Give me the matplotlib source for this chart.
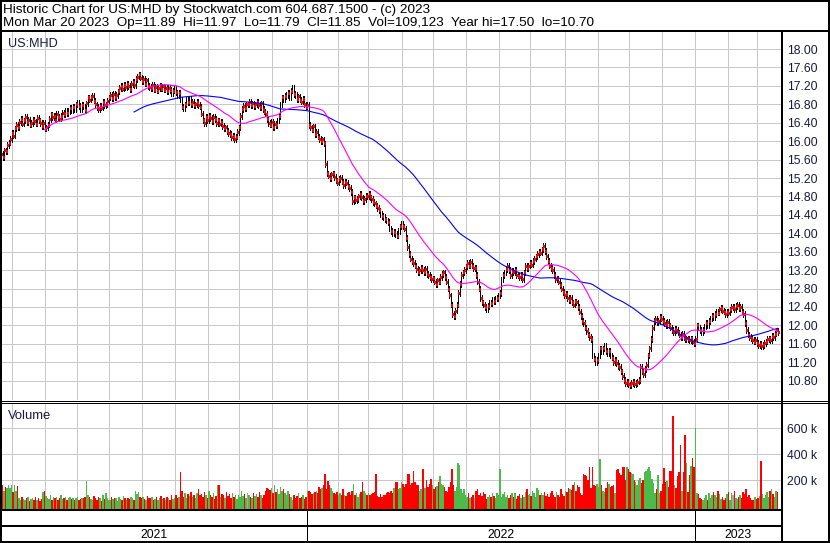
import numpy as np
import pandas as pd
import matplotlib
matplotlib.use('Agg')
import matplotlib.pyplot as plt
from matplotlib.lines import Line2D

W, H = 830, 543

# weekdays shown on the chart (Mar 22 2021 .. Mar 20 2023)
dates = pd.bdate_range('2021-03-22', '2023-03-20')

# daily closes
close = [
    15.72, 15.66, 15.80, 15.78, 15.92, 15.97, 16.05, 16.18, 16.12, 16.28,
    16.35, 16.30, 16.42, 16.48, 16.38, 16.45, 16.52, 16.41, 16.46, 16.36,
    16.40, 16.47, 16.43, 16.38, 16.51, 16.45, 16.40, 16.33, 16.39, 16.27,
    16.30, 16.36, 16.48, 16.58, 16.52, 16.55, 16.47, 16.60, 16.53, 16.49,
    16.55, 16.62, 16.58, 16.67, 16.61, 16.65, 16.72, 16.68, 16.75, 16.70,
    16.80, 16.84, 16.76, 16.70, 16.79, 16.75, 16.68, 16.82, 16.95, 16.90,
    16.95, 16.98, 16.88, 16.80, 16.74, 16.70, 16.77, 16.73, 16.85, 16.78,
    16.80, 16.88, 16.95, 17.00, 16.93, 17.02, 16.96, 17.00, 17.08, 17.15,
    17.20, 17.14, 17.22, 17.17, 17.25, 17.20, 17.13, 17.24, 17.28, 17.22,
    17.35, 17.40, 17.45, 17.38, 17.30, 17.35, 17.25, 17.32, 17.20, 17.18,
    17.15, 17.22, 17.12, 17.18, 17.10, 17.15, 17.20, 17.14, 17.19, 17.12,
    17.15, 17.08, 17.16, 17.11, 17.05, 17.10, 17.13, 17.06, 17.00, 17.05,
    16.90, 16.75, 16.72, 16.80, 16.90, 16.85, 16.92, 16.80, 16.86, 16.78,
    16.80, 16.86, 16.78, 16.75, 16.60, 16.45, 16.40, 16.52, 16.46, 16.55,
    16.50, 16.44, 16.52, 16.48, 16.40, 16.45, 16.38, 16.42, 16.33, 16.28,
    16.30, 16.22, 16.18, 16.15, 16.08, 16.12, 16.05, 16.10, 16.20, 16.30,
    16.55, 16.70, 16.76, 16.72, 16.80, 16.80, 16.86, 16.78, 16.82, 16.76,
    16.80, 16.85, 16.78, 16.74, 16.82, 16.70, 16.64, 16.60, 16.48, 16.40,
    16.36, 16.42, 16.30, 16.38, 16.35, 16.45, 16.55, 16.80, 16.95, 16.90,
    16.98, 17.00, 17.05, 16.96, 17.10, 17.15, 17.02, 17.00, 16.92, 16.97,
    16.90, 16.86, 16.92, 16.80, 16.75, 16.78, 16.35, 16.30, 16.25, 16.32,
    16.15, 16.20, 16.10, 16.05, 16.00, 16.04, 15.95, 15.50, 15.30, 15.25,
    15.20, 15.28, 15.30, 15.22, 15.15, 15.10, 15.18, 15.20, 15.12, 15.05,
    15.12, 15.10, 15.02, 14.98, 14.90, 14.70, 14.78, 14.72, 14.75, 14.80,
    14.85, 14.78, 14.70, 14.74, 14.82, 14.80, 14.85, 14.78, 14.75, 14.68,
    14.65, 14.60, 14.55, 14.50, 14.42, 14.38, 14.35, 14.30, 14.28, 14.25,
    14.10, 14.05, 14.00, 14.03, 13.98, 13.95, 14.05, 14.15, 14.20, 14.15,
    14.10, 13.90, 13.70, 13.55, 13.45, 13.40, 13.35, 13.30, 13.22, 13.15,
    13.20, 13.25, 13.20, 13.15, 13.22, 13.12, 13.10, 13.05, 13.00, 13.02,
    12.95, 12.90, 12.98, 12.95, 13.05, 13.12, 13.15, 13.05, 12.95, 12.80,
    12.65, 12.45, 12.25, 12.20, 12.32, 12.45, 12.70, 12.90, 13.10, 13.15,
    13.20, 13.28, 13.35, 13.30, 13.38, 13.30, 13.25, 13.25, 13.10, 12.95,
    12.80, 12.60, 12.50, 12.45, 12.40, 12.35, 12.42, 12.50, 12.48, 12.55,
    12.52, 12.58, 12.60, 12.65, 12.70, 13.00, 13.10, 13.15, 13.22, 13.30,
    13.20, 13.10, 13.18, 13.15, 13.20, 13.10, 13.08, 13.05, 13.10, 13.00,
    13.15, 13.30, 13.25, 13.30, 13.35, 13.32, 13.40, 13.45, 13.50, 13.55,
    13.60, 13.58, 13.65, 13.72, 13.62, 13.50, 13.40, 13.30, 13.25, 13.20,
    13.10, 13.00, 13.02, 12.95, 12.88, 12.80, 12.72, 12.65, 12.68, 12.60,
    12.55, 12.60, 12.50, 12.45, 12.52, 12.50, 12.40, 12.30, 12.20, 12.10,
    12.05, 11.95, 11.88, 11.80, 11.75, 11.70, 11.35, 11.28, 11.20, 11.25,
    11.35, 11.50, 11.45, 11.50, 11.55, 11.45, 11.40, 11.45, 11.35, 11.30,
    11.20, 11.25, 11.18, 11.12, 11.10, 11.00, 10.90, 10.82, 10.75, 10.78,
    10.72, 10.70, 10.75, 10.78, 10.72, 10.75, 10.78, 10.82, 11.10, 11.00,
    10.95, 11.05, 11.15, 11.35, 11.50, 11.70, 11.95, 12.10, 12.15, 12.08,
    12.10, 12.18, 12.15, 12.10, 12.05, 12.00, 12.08, 12.00, 11.95, 11.90,
    11.85, 11.92, 11.90, 11.85, 11.80, 11.75, 11.82, 11.75, 11.70, 11.72,
    11.70, 11.68, 11.72, 11.65, 11.62, 11.70, 12.00, 11.95, 11.90, 11.85,
    11.90, 11.98, 12.05, 12.00, 12.10, 12.15, 12.20, 12.18, 12.25, 12.30,
    12.28, 12.35, 12.38, 12.32, 12.30, 12.25, 12.30, 12.28, 12.35, 12.40,
    12.40, 12.35, 12.42, 12.45, 12.38, 12.40, 12.30, 12.25, 12.05, 11.90,
    11.80, 11.75, 11.72, 11.68, 11.65, 11.68, 11.62, 11.58, 11.60, 11.55,
    11.58, 11.62, 11.65, 11.70, 11.72, 11.68, 11.78, 11.75, 11.82, 11.89, 11.85,
]

# daily volume in thousands of shares
volume_k = [
    130, 160, 120, 150, 140, 165, 140, 160, 110, 165,
    120, 155, 60, 50, 75, 55, 45, 65, 70, 40,
    55, 60, 45, 70, 50, 60, 40, 55, 110, 120,
    80, 65, 55, 90, 45, 70, 60, 75, 50, 60,
    85, 55, 65, 70, 45, 60, 75, 55, 65, 50,
    60, 70, 45, 55, 65, 60, 75, 195, 90, 70,
    55, 45, 80, 60, 50, 70, 65, 40, 85, 55,
    100, 60, 50, 45, 70, 55, 60, 65, 40, 75,
    55, 50, 80, 60, 45, 65, 55, 70, 60, 50,
    120, 95, 110, 70, 60, 75, 55, 45, 80, 65,
    60, 70, 50, 55, 75, 45, 60, 80, 55, 65,
    50, 70, 60, 45, 85, 55, 60, 90, 65, 70,
    265, 120, 75, 100, 60, 95, 80, 110, 70, 90,
    65, 105, 130, 85, 95, 70, 110, 85, 60, 120,
    90, 75, 100, 55, 80, 160, 165, 70, 95, 85,
    60, 110, 80, 95, 65, 100, 75, 90, 55, 85,
    70, 120, 80, 95, 60, 105, 90, 75, 65, 100,
    80, 95, 70, 110, 85, 60, 90, 120, 140, 130,
    125, 140, 100, 160, 110, 135, 95, 150, 120, 130,
    105, 85, 115, 95, 70, 50, 90, 60, 80, 100,
    60, 75, 90, 55, 70, 115, 120, 110, 95, 100,
    110, 120, 100, 150, 130, 140, 160, 245, 130, 195,
    165, 140, 120, 100, 95, 110, 90, 105, 85, 130,
    90, 80, 100, 110, 85, 120, 175, 90, 100, 70,
    95, 110, 190, 120, 100, 90, 105, 85, 95, 100,
    110, 245, 80, 75, 95, 70, 90, 85, 100, 110,
    100, 120, 105, 140, 190, 185, 130, 140, 190, 170,
    150, 175, 245, 245, 160, 180, 270, 190, 160, 165,
    120, 130, 285, 285, 140, 200, 150, 170, 210, 160,
    130, 150, 155, 190, 230, 175, 165, 150, 120, 110,
    150, 185, 285, 160, 120, 150, 330, 320, 130, 100,
    130, 90, 75, 100, 60, 75, 85, 65, 120, 135,
    85, 100, 80, 110, 95, 55, 75, 90, 70, 100,
    80, 60, 105, 85, 290, 70, 95, 110, 75, 90,
    60, 85, 100, 70, 105, 55, 80, 95, 65, 90,
    70, 110, 130, 85, 95, 80, 120, 100, 75, 140,
    125, 85, 100, 90, 110, 80, 95, 70, 105, 115,
    90, 75, 110, 85, 70, 130, 95, 80, 120, 110,
    140, 130, 125, 160, 185, 120, 165, 150, 100, 90,
    250, 240, 230, 200, 300, 140, 300, 165, 155, 175,
    150, 365, 165, 120, 110, 140, 190, 170, 150, 155,
    160, 100, 280, 285, 255, 240, 300, 305, 200, 300,
    290, 265, 255, 250, 200, 190, 165, 200, 215, 180,
    205, 260, 270, 285, 305, 275, 210, 180, 100, 130,
    240, 105, 115, 170, 295, 190, 195, 150, 270, 275,
    695, 165, 140, 230, 260, 470, 120, 260, 550, 330,
    110, 240, 310, 375, 300, 600, 100, 95, 60, 55,
    45, 65, 85, 50, 100, 60, 90, 110, 85, 75,
    120, 95, 55, 70, 45, 65, 95, 110, 50, 100,
    85, 115, 60, 55, 75, 90, 60, 110, 95, 130,
    70, 85, 60, 45, 50, 70, 55, 65, 80, 345,
    95, 60, 85, 110, 70, 120, 130, 95, 75, 115, 109,
]

first_open = 15.70
price_ticks = [10.8, 11.2, 11.6, 12.0, 12.4, 12.8, 13.2, 13.6, 14.0,
               14.4, 14.8, 15.2, 15.6, 16.0, 16.4, 16.8, 17.2, 17.6, 18.0]
vol_ticks = [200, 400, 600]
vol_tick_labels = ['200 k', '400 k', '600 k']
years = ['2021', '2022', '2023']
header = ['Historic Chart for US:MHD by Stockwatch.com 604.687.1500 - (c) 2023',
          'Mon Mar 20 2023  Op=11.89  Hi=11.97  Lo=11.79  Cl=11.85  '
          'Vol=109,123  Year hi=17.50  lo=10.70']

assert len(dates) == len(close) == len(volume_k)

close = np.array(close)
n = len(close)
idx = np.arange(n)
opens = np.r_[first_open, close[:-1]]
wick = 0.06
high = np.maximum(opens, close) + wick
low = np.minimum(opens, close) - wick
ma_fast = pd.Series(close).rolling(30).mean()
ma_slow = pd.Series(close).rolling(90).mean()

chg = np.r_[0, np.diff(close)]
vol_colors = np.where(chg > 0, '#4cbb4c', np.where(chg < 0, '#ff0000', '#a8a8a8'))

plt.rcParams['font.family'] = ['Liberation Sans', 'DejaVu Sans']
label_color = '#1a1a40'
grid_color = '#c8c8c8'

fig = plt.figure(figsize=(W / 100, H / 100), dpi=100)


def box(x0, y_top, x1, y_bot):
    return [x0 / W, 1 - y_bot / H, (x1 - x0) / W, (y_bot - y_top) / H]


def pline(xs, ys, lw=1.0):
    fig.add_artist(Line2D([x / W for x in xs], [1 - y / H for y in ys],
                          color='black', lw=lw * 0.72, solid_capstyle='butt'))


xlim = (0.5, 522.3)
month_starts = [i - 0.5 for i in range(1, n) if dates[i].month != dates[i - 1].month]
year_starts = [i - 0.5 for i in range(1, n) if dates[i].year != dates[i - 1].year]

# price panel
ax = fig.add_axes(box(2, 32, 781, 400))
ax.set_xlim(*xlim)
ax.set_ylim(10.381, 18.37)
for m in month_starts:
    ax.axvline(m, color=grid_color, lw=0.72, zorder=0)
for t in price_ticks:
    ax.axhline(t, color=grid_color, lw=0.72, zorder=0)
ax.vlines(idx, low, high, color='black', lw=0.5, zorder=2, antialiased=False)
ax.hlines(close, idx + 0.1, idx + 0.7, color='#ff0000', lw=0.9, zorder=3, antialiased=False)
ax.plot(idx, ma_slow, color='#0000ff', lw=0.8, zorder=4)
ax.plot(idx, ma_fast, color='#ff00ff', lw=0.8, zorder=4)
ax.set_yticks(price_ticks)
ax.set_yticklabels([f'{t:.2f}' for t in price_ticks])
ax.yaxis.tick_right()
ax.tick_params(axis='y', length=0, pad=4.5, labelsize=8.7, labelcolor=label_color)
ax.set_xticks([])
for s in ax.spines.values():
    s.set_visible(False)
ax.text(0.008, 0.985, 'US:MHD', transform=ax.transAxes, ha='left', va='top',
        fontsize=9.1, color=label_color)

# volume panel
av = fig.add_axes(box(2, 403, 781, 509))
av.set_xlim(*xlim)
vmin, vmax = -21, 795
av.set_ylim(vmin, vmax)
for m in month_starts:
    av.axvline(m, color=grid_color, lw=0.72, zorder=0)
for t in vol_ticks:
    av.axhline(t, color=grid_color, lw=0.72, zorder=0)
av.bar(idx, np.array(volume_k) - vmin, bottom=vmin, width=1.0,
       color=vol_colors, linewidth=0, zorder=2, antialiased=False)
av.set_yticks(vol_ticks)
av.set_yticklabels(vol_tick_labels)
av.yaxis.tick_right()
av.tick_params(axis='y', length=0, pad=4.5, labelsize=8.7, labelcolor=label_color)
av.set_xticks([])
for s in av.spines.values():
    s.set_visible(False)
av.text(0.008, 0.93, 'Volume', transform=av.transAxes, ha='left', va='top',
        fontsize=9.4, color=label_color)

# header
fig.text(3 / W, 1 - 9.5 / H, header[0], ha='left', va='center', fontsize=9.7)
fig.text(3 / W, 1 - 23 / H, header[1], ha='left', va='center', fontsize=9.7)

# frame and date rows
x_of = lambda i: 2 + (i - xlim[0]) * 779 / (xlim[1] - xlim[0])
pline([0, W], [1, 1], 2)
pline([1, 1], [0, 543], 2)
pline([828.5, 828.5], [0, 543], 2)
pline([0, W], [541.5, 541.5], 2)
pline([0, W], [30.5, 30.5], 2)
pline([781.5, 781.5], [30, 542], 2)
pline([0, W], [400.5, 400.5], 1)
pline([0, W], [402.5, 402.5], 1)
pline([0, 782], [509.5, 509.5], 2)
pline([0, 782], [526, 526], 2)
bounds = [2] + [x_of(y) for y in year_starts] + [781]
for b in bounds[1:-1]:
    pline([b, b], [509, 541], 1)
for k, yr in enumerate(years):
    fig.text((bounds[k] + bounds[k + 1]) / 2 / W, 1 - 534.5 / H, yr,
             ha='center', va='center', fontsize=8.7)

fig.savefig('out.png', dpi=100)
